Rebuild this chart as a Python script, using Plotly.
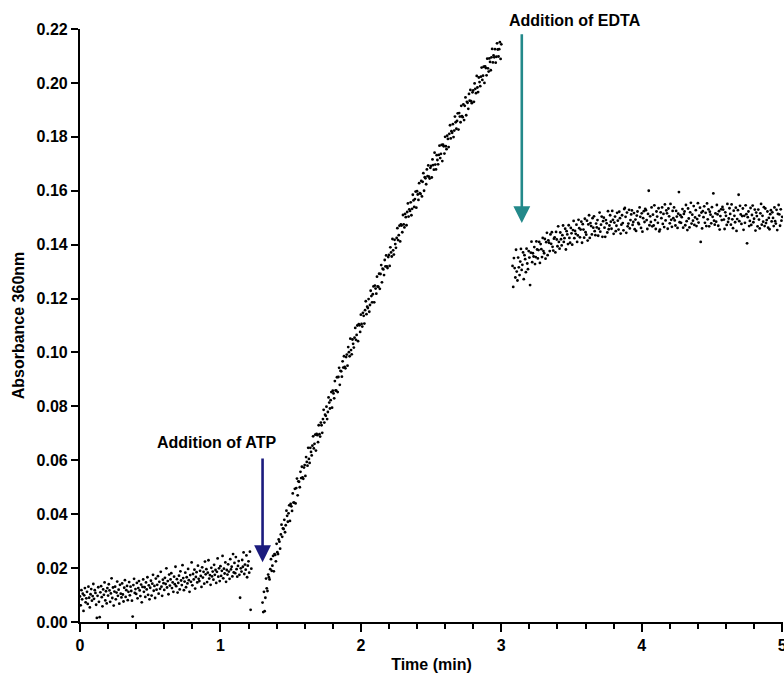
import numpy as np
import plotly.graph_objects as go

# ---------------- data (absorbance in units of 1e-4) ----------------
sample_interval_min = 0.005

# Baseline before ATP addition: t = 0.000 ... 1.220 min
baseline_start = 0.0
baseline_abs = [
    95, 62, 118, 84, 105, 41, 99, 126, 73, 88,
    112, 67, 131, 90, 54, 103, 122, 79, 96, 141,
    86, 118, 108, 64, 15, 97, 129, 75, 18, 110,
    133, 92, 58, 121, 101, 147, 80, 114, 69, 126,
    98, 140, 117, 75, 106, 162, 89, 128, 61, 113,
    131, 84, 109, 150, 97, 120, 68, 138, 105, 91,
    143, 102, 76, 127, 155, 93, 118, 134, 81, 112,
    148, 99, 131, 115, 79, 20, 137, 160, 108, 122,
    104, 145, 88, 126, 152, 117, 96, 139, 73, 130,
    158, 112, 129, 93, 147, 121, 166, 101, 136, 84,
    127, 153, 98, 142, 175, 116, 134, 89, 161, 120,
    138, 170, 105, 149, 123, 186, 131, 97, 157, 144,
    119, 164, 141, 199, 128, 152, 103, 176, 135, 158,
    181, 126, 147, 112, 168, 140, 205, 133, 159, 109,
    145, 172, 121, 188, 154, 137, 211, 163, 118, 150,
    183, 129, 166, 143, 197, 155, 112, 174, 149, 221,
    136, 178, 158, 194, 124, 167, 185, 147, 209, 160,
    152, 190, 171, 130, 203, 165, 186, 142, 224, 177,
    196, 148, 183, 229, 161, 174, 138, 201, 169, 187,
    157, 212, 175, 193, 145, 186, 236, 168, 199, 152,
    207, 171, 190, 245, 162, 198, 180, 221, 149, 193,
    176, 214, 187, 160, 233, 195, 205, 169, 252, 184,
    219, 181, 241, 196, 168, 208, 226, 175, 90, 199,
    187, 230, 205, 258, 178, 213, 194, 247, 166, 209,
    225, 183, 261, 45, 198,
]

# After ATP addition: t = 1.300 ... 3.000 min
atp_start = 1.30
atp_abs = [
    72, 37, 112, 40, 90, 161, 125, 115, 176, 166,
    158, 196, 233, 190, 209, 245, 188, 252, 249, 225,
    290, 259, 252, 306, 298, 272, 325, 361, 316, 347,
    345, 379, 333, 359, 413, 394, 372, 403, 433, 375,
    438, 429, 412, 477, 443, 443, 494, 440, 497, 532,
    470, 522, 520, 500, 557, 534, 576, 536, 531, 573,
    582, 542, 612, 594, 580, 646, 605, 590, 646, 631,
    618, 654, 689, 644, 661, 695, 636, 698, 693, 667,
    730, 697, 688, 740, 730, 702, 753, 787, 740, 769,
    765, 799, 753, 779, 833, 814, 792, 823, 853, 795,
    858, 848, 830, 894, 859, 858, 908, 853, 909, 943,
    880, 932, 930, 910, 967, 944, 986, 946, 941, 983,
    992, 951, 1020, 1001, 986, 1051, 1009, 993, 1048, 1032,
    1018, 1055, 1091, 1047, 1065, 1100, 1042, 1105, 1101, 1076,
    1140, 1106, 1096, 1147, 1136, 1107, 1157, 1190, 1142, 1170,
    1165, 1198, 1151, 1176, 1229, 1209, 1186, 1216, 1245, 1186,
    1248, 1237, 1218, 1281, 1245, 1243, 1292, 1236, 1291, 1324,
    1260, 1311, 1308, 1287, 1343, 1319, 1360, 1319, 1313, 1354,
    1362, 1321, 1390, 1371, 1356, 1421, 1379, 1363, 1418, 1402,
    1388, 1425, 1461, 1417, 1435, 1470, 1412, 1475, 1471, 1446,
    1510, 1475, 1464, 1514, 1502, 1472, 1521, 1553, 1504, 1531,
    1525, 1557, 1509, 1533, 1585, 1564, 1540, 1569, 1597, 1537,
    1598, 1586, 1566, 1628, 1591, 1588, 1636, 1579, 1633, 1665,
    1600, 1650, 1646, 1624, 1679, 1654, 1694, 1652, 1645, 1685,
    1692, 1649, 1716, 1695, 1678, 1741, 1697, 1679, 1732, 1714,
    1698, 1733, 1767, 1721, 1737, 1770, 1710, 1771, 1765, 1738,
    1800, 1765, 1754, 1804, 1792, 1762, 1811, 1843, 1794, 1821,
    1815, 1847, 1799, 1823, 1875, 1854, 1830, 1859, 1887, 1827,
    1888, 1875, 1854, 1915, 1877, 1873, 1920, 1862, 1915, 1946,
    1880, 1930, 1926, 1904, 1959, 1934, 1974, 1932, 1925, 1965,
    1972, 1930, 1998, 1978, 1962, 2026, 1983, 1966, 2020, 2003,
    1988, 2023, 2057, 2011, 2027, 2060, 2000, 2061, 2055, 2028,
    2090, 2054, 2042, 2091, 2078, 2047, 2095, 2126, 2076, 2102,
    2095, 2125, 2075, 2097, 2147, 2124, 2098, 2125, 2151, 2089,
    2143,
]

# After EDTA addition: t = 3.080 ... 5.000 min
edta_start = 3.08
edta_abs = [
    1321, 1243, 1350, 1313, 1278, 1381, 1300, 1267, 1352, 1316,
    1287, 1337, 1384, 1306, 1325, 1371, 1272, 1361, 1346, 1298,
    1385, 1330, 1309, 1376, 1352, 1250, 1370, 1411, 1335, 1368,
    1356, 1391, 1328, 1354, 1412, 1382, 1349, 1380, 1410, 1332,
    1402, 1383, 1354, 1425, 1376, 1368, 1421, 1348, 1409, 1444,
    1361, 1416, 1407, 1376, 1438, 1403, 1446, 1392, 1378, 1422,
    1427, 1371, 1447, 1419, 1394, 1468, 1410, 1385, 1445, 1420,
    1397, 1435, 1471, 1410, 1424, 1459, 1382, 1450, 1438, 1402,
    1472, 1425, 1407, 1462, 1442, 1400, 1454, 1488, 1424, 1451,
    1440, 1474, 1410, 1434, 1492, 1461, 1427, 1456, 1485, 1407,
    1476, 1456, 1426, 1496, 1446, 1437, 1489, 1415, 1475, 1509,
    1425, 1480, 1469, 1438, 1498, 1463, 1505, 1450, 1435, 1478,
    1464, 1491, 1433, 1459, 1519, 1448, 1474, 1504, 1429, 1487,
    1500, 1463, 1429, 1491, 1479, 1445, 1524, 1457, 1471, 1509,
    1485, 1459, 1525, 1492, 1440, 1482, 1504, 1450, 1470, 1518,
    1489, 1456, 1522, 1498, 1441, 1474, 1509, 1480, 1453, 1532,
    1536, 1503, 1444, 1519, 1468, 1478, 1529, 1460, 1491, 1512,
    1527, 1473, 1484, 1517, 1457, 1493, 1451, 1508, 1523, 1481,
    1476, 1538, 1503, 1462, 1516, 1448, 1498, 1524, 1484, 1533,
    1528, 1491, 1458, 1514, 1600, 1472, 1505, 1484, 1538, 1468,
    1511, 1471, 1546, 1491, 1458, 1523, 1504, 1481, 1535, 1449,
    1456, 1520, 1498, 1538, 1477, 1514, 1465, 1549, 1490, 1527,
    1516, 1459, 1534, 1505, 1479, 1551, 1492, 1466, 1525, 1498,
    1538, 1490, 1471, 1525, 1504, 1462, 1515, 1595, 1483, 1509,
    1481, 1502, 1532, 1463, 1514, 1523, 1472, 1547, 1487, 1454,
    1534, 1497, 1464, 1520, 1555, 1478, 1511, 1489, 1543, 1473,
    1501, 1528, 1469, 1495, 1554, 1482, 1508, 1537, 1410, 1519,
    1460, 1524, 1502, 1542, 1481, 1518, 1469, 1553, 1494, 1531,
    1468, 1522, 1511, 1479, 1539, 1503, 1590, 1489, 1474, 1516,
    1485, 1547, 1512, 1470, 1524, 1456, 1506, 1531, 1491, 1540,
    1530, 1493, 1458, 1520, 1507, 1473, 1551, 1484, 1497, 1535,
    1514, 1474, 1549, 1494, 1461, 1526, 1507, 1483, 1537, 1451,
    1495, 1528, 1585, 1487, 1544, 1512, 1477, 1506, 1534, 1455,
    1507, 1481, 1546, 1513, 1405, 1502, 1523, 1469, 1488, 1536,
    1473, 1510, 1545, 1483, 1496, 1530, 1452, 1519, 1506, 1468,
    1530, 1493, 1460, 1516, 1551, 1474, 1507, 1485, 1539, 1469,
    1534, 1480, 1491, 1523, 1463, 1499, 1457, 1513, 1528, 1486,
    1520, 1499, 1469, 1538, 1487, 1478, 1529, 1454, 1514, 1547,
    1512, 1470, 1531, 1489, 1503,
]
abs_unit = 1e-4

# arrows: (x, tail y, tip y)
atp_label = "Addition of ATP"
atp_arrow = (1.30, 0.0612, 0.0222)
edta_label = "Addition of EDTA"
edta_arrow = (3.146, 0.2186, 0.1480)

y_ticks = [0.00, 0.02, 0.04, 0.06, 0.08, 0.10, 0.12, 0.14, 0.16, 0.18, 0.20, 0.22]
x_ticks = [0, 1, 2, 3, 4, 5]

# ---------------- build ----------------
def seg_times(start, n):
    return np.round(start + sample_interval_min * np.arange(n), 4)

t_all = np.concatenate([
    seg_times(baseline_start, len(baseline_abs)),
    seg_times(atp_start, len(atp_abs)),
    seg_times(edta_start, len(edta_abs)),
])
y_all = np.array(baseline_abs + atp_abs + edta_abs) * abs_unit

FONT = "Liberation Sans, Arial, Helvetica, sans-serif"
BOLD16 = dict(family=FONT, size=16, color="black", weight="bold")

fig = go.Figure()
fig.add_trace(go.Scatter(
    x=t_all, y=y_all, mode="markers",
    marker=dict(size=2.8, color="black", line=dict(width=0)),
    showlegend=False, hoverinfo="skip",
))

for (ax_x, tail_y, tip_y), colour in [(atp_arrow, "#1b1b7e"), (edta_arrow, "#23898a")]:
    fig.add_annotation(
        x=ax_x, y=tip_y, ax=ax_x, ay=tail_y, xref="x", yref="y",
        axref="x", ayref="y", text="", showarrow=True,
        arrowhead=2, arrowsize=1.3, arrowwidth=2.6, arrowcolor=colour,
    )

fig.add_annotation(x=0.975, y=0.0665, xref="x", yref="y", text=atp_label,
                   showarrow=False, font=BOLD16, yanchor="middle")
fig.add_annotation(x=3.525, y=1.0135, xref="x", yref="paper", text=edta_label,
                   showarrow=False, font=BOLD16, yanchor="middle", xanchor="center")

fig.update_layout(
    width=784, height=679,
    margin=dict(l=80, r=1, t=29, b=57),
    paper_bgcolor="white", plot_bgcolor="white",
    font=dict(family=FONT, color="black"),
)
fig.update_xaxes(
    range=[0, 5.006], tickvals=x_ticks, ticktext=[str(v) for v in x_ticks],
    showgrid=False, zeroline=False, showline=True, linecolor="black", linewidth=2.2,
    ticks="outside", ticklen=8, tickwidth=2, tickcolor="black",
    minor=dict(dtick=0.2, ticks="outside", ticklen=5, tickwidth=2, tickcolor="black", showgrid=False),
    tickfont=BOLD16, automargin=False, ticklabeloverflow="allow",
    title=dict(text="Time (min)", font=BOLD16, standoff=6),
)
fig.update_yaxes(
    range=[0, 0.22], tickvals=y_ticks, ticktext=[f"{v:.2f}" for v in y_ticks],
    showgrid=False, zeroline=False, showline=True, linecolor="black", linewidth=2.2,
    ticks="outside", ticklen=7, tickwidth=2, tickcolor="black",
    tickfont=BOLD16, automargin=False,
    title=dict(text="Absorbance 360nm", font=BOLD16, standoff=8),
)

fig.write_html(
    "out.html",
    config={"displayModeBar": False},
    post_script="document.body.style.margin='0';document.body.style.overflow='hidden';",
)
